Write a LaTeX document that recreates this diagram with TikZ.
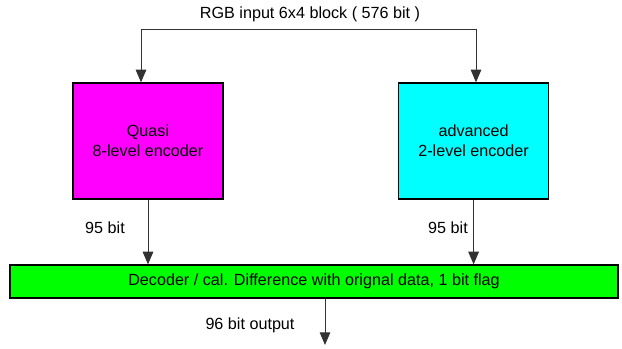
\documentclass[tikz,border=0pt]{standalone}
\usepackage{fontspec}
\setmainfont{Liberation Sans}
\usepackage{xcolor}
\usepackage{tikz}
\usetikzlibrary{positioning,arrows.meta}
\definecolor{encmagenta}{RGB}{255,0,255}
\definecolor{enccyan}{RGB}{0,255,255}
\definecolor{decgreen}{RGB}{0,255,0}
\definecolor{linegray}{RGB}{50,50,50}

\begin{document}
\begin{tikzpicture}[
        box/.style={rectangle, draw=black, line width=1pt, align=center,
                   minimum width=3.75cm, minimum height=2.9cm,
                   font=\fontsize{11.5}{14}\selectfont},
        bar/.style={rectangle, draw=black, line width=1pt, fill=decgreen,
                   minimum width=15.2cm, minimum height=0.825cm,
                   font=\fontsize{11.5}{14}\selectfont},
        lbl/.style={font=\fontsize{11.5}{14}\selectfont},
        arrow/.style={-{Triangle[length=9pt,width=7.5pt]}, linegray, line width=0.7pt}
    ]
        \useasboundingbox (0,0) rectangle (15.55,-8.725);

        \node[box, fill=encmagenta] (quasi) at (3.7,-3.525) {Quasi\\8-level encoder};
        \node[box, fill=enccyan] (adv) at (11.84,-3.525) {advanced\\2-level encoder};
        \node[bar] (dec) at (7.85,-7.04) {Decoder / cal. Difference with orignal data, 1 bit flag};

        \node[lbl] (rgb) at (7.75,-0.35) {RGB input 6x4 block ( 576 bit )};
        \node[lbl] (bitl) at (2.625,-5.7) {95 bit};
        \node[lbl] (bitr) at (11.2,-5.7) {95 bit};
        \node[lbl] (outl) at (6.25,-8.125) {96 bit output};

        \coordinate (inl) at (3.525,-0.725);
        \coordinate (inr) at (11.9,-0.725);
        \coordinate (out) at (8.125,-8.625);

        \draw[linegray, line width=0.7pt] (inl) -- (inr);
        \draw[arrow] (inl) -- (inl |- quasi.north);
        \draw[arrow] (inr) -- (inr |- adv.north);
        \draw[arrow] (quasi.south) -- (quasi.south |- dec.north);
        \draw[arrow] (adv.south) -- (adv.south |- dec.north);
        \draw[arrow] (dec.south -| out) -- (out);
    \end{tikzpicture}
\end{document}
